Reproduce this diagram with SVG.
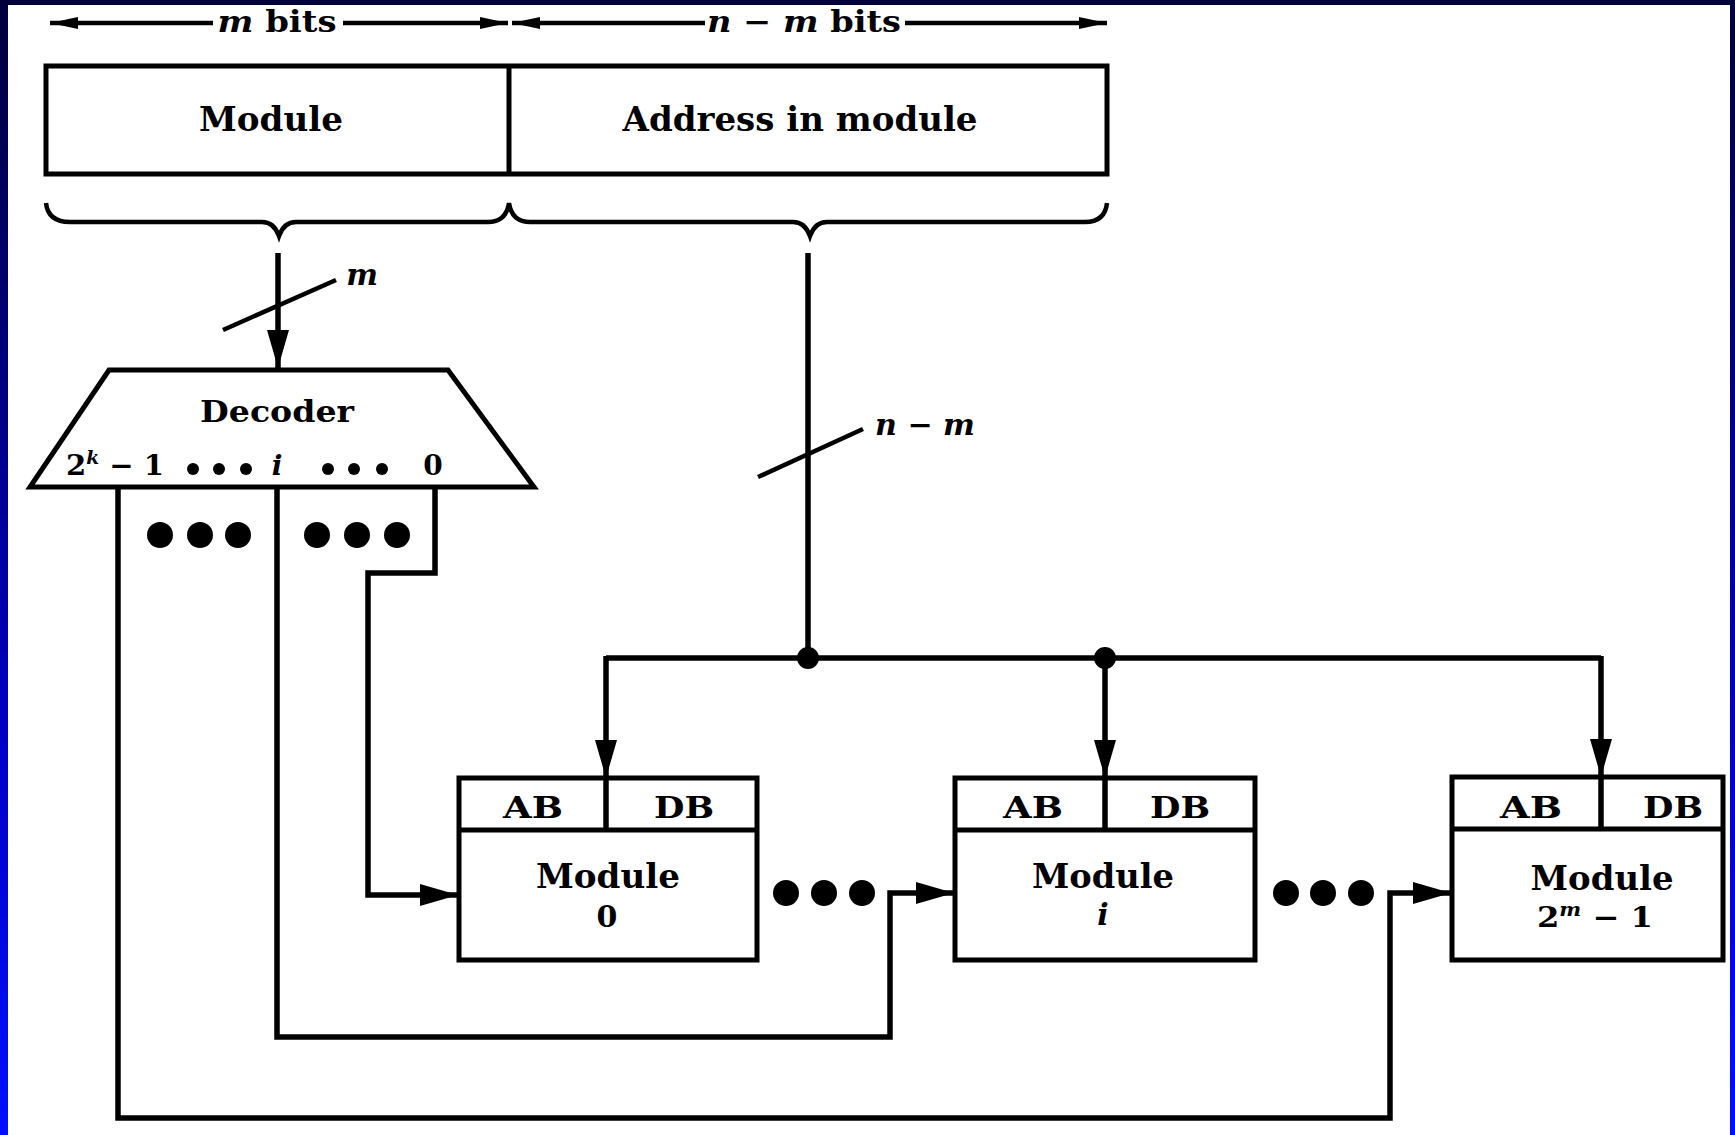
<svg xmlns="http://www.w3.org/2000/svg" width="1735" height="1135" viewBox="0 0 1735 1135">
<defs>
<linearGradient id="frame" x1="0" y1="0" x2="0" y2="1">
<stop offset="0" stop-color="#00003a"/>
<stop offset="0.3" stop-color="#000078"/>
<stop offset="0.65" stop-color="#0000c4"/>
<stop offset="1" stop-color="#0010ff"/>
</linearGradient>
<marker id="ah" markerUnits="userSpaceOnUse" markerWidth="40" markerHeight="24" refX="38" refY="12" orient="auto">
<path d="M0,1 L38,12 L0,23 Z" fill="#000"/>
</marker>
<marker id="dim" markerUnits="userSpaceOnUse" markerWidth="30" markerHeight="16" refX="28" refY="8" orient="auto">
<path d="M0,2 L28,8 L0,14 Z" fill="#000"/>
</marker>
<style>
.t{font-family:"DejaVu Serif","Liberation Serif",serif;font-weight:bold;fill:#000;text-anchor:middle}
.it{font-style:italic}
.box{fill:none;stroke:#000;stroke-width:5}
.wire{fill:none;stroke:#000;stroke-width:5.5;stroke-linejoin:miter}
.thin{fill:none;stroke:#000;stroke-width:4.5}
.dot{fill:#000}
</style>
</defs>
<rect x="0" y="0" width="1735" height="1135" fill="url(#frame)"/>
<rect x="8" y="5" width="1722" height="1130" fill="#fff"/>

<g id="dimensions">
<line class="thin" x1="213" y1="23" x2="50" y2="23" marker-end="url(#dim)"/>
<line class="thin" x1="343" y1="23" x2="508" y2="23" marker-end="url(#dim)"/>
<text class="t" x="277" y="32" font-size="30" textLength="119" lengthAdjust="spacingAndGlyphs"><tspan class="it">m</tspan> bits</text>
<line class="thin" x1="705" y1="23" x2="512" y2="23" marker-end="url(#dim)"/>
<line class="thin" x1="905" y1="23" x2="1107" y2="23" marker-end="url(#dim)"/>
<text class="t" x="804" y="32" font-size="30" textLength="194" lengthAdjust="spacingAndGlyphs"><tspan class="it">n</tspan> − <tspan class="it">m</tspan> bits</text>
</g>

<g id="address-field">
<rect class="box" x="46" y="66" width="1061" height="108"/>
<line class="box" x1="509" y1="66" x2="509" y2="174"/>
<text class="t" x="271" y="131" font-size="33" textLength="144" lengthAdjust="spacingAndGlyphs">Module</text>
<text class="t" x="800" y="131" font-size="33" textLength="355" lengthAdjust="spacingAndGlyphs">Address in module</text>
<path class="thin" d="M46,203 Q48,222 70,222 L262,222 Q274,222 279,236 Q284,222 296,222 L488,222 Q506,222 509,203 Q512,222 530,222 L793,222 Q805,222 810,236 Q815,222 827,222 L1085,222 Q1105,222 1107,203"/>
</g>

<g id="decoder">
<path class="box" d="M109,370 L448,370 L534,487 L30,487 Z"/>
<text class="t" x="277" y="422" font-size="30" textLength="154" lengthAdjust="spacingAndGlyphs">Decoder</text>
<text class="t" x="115" y="475" font-size="28" textLength="98" lengthAdjust="spacingAndGlyphs">2<tspan class="it" font-size="18" dy="-11">k</tspan><tspan dy="11"> − 1</tspan></text>
<circle class="dot" cx="193" cy="469" r="6"/>
<circle class="dot" cx="219" cy="469" r="6"/>
<circle class="dot" cx="246" cy="469" r="6"/>
<text class="t it" x="277" y="475" font-size="28">i</text>
<circle class="dot" cx="328" cy="469" r="6"/>
<circle class="dot" cx="354" cy="469" r="6"/>
<circle class="dot" cx="382" cy="469" r="6"/>
<text class="t" x="433" y="475" font-size="28">0</text>
</g>

<g id="module-0">
<rect class="box" x="459" y="778" width="298" height="182"/>
<line class="box" x1="459" y1="830" x2="757" y2="830"/>
<line class="wire" x1="606" y1="778" x2="606" y2="830"/>
<text class="t" x="533" y="818" font-size="30" textLength="60" lengthAdjust="spacingAndGlyphs">AB</text>
<text class="t" x="684" y="818" font-size="30" textLength="60" lengthAdjust="spacingAndGlyphs">DB</text>
<text class="t" x="608" y="888" font-size="33" textLength="144" lengthAdjust="spacingAndGlyphs">Module</text>
<text class="t" x="607" y="927" font-size="30">0</text>
</g>

<g id="module-i">
<rect class="box" x="955" y="778" width="300" height="182"/>
<line class="box" x1="955" y1="830" x2="1255" y2="830"/>
<line class="wire" x1="1105" y1="778" x2="1105" y2="830"/>
<text class="t" x="1033" y="818" font-size="30" textLength="60" lengthAdjust="spacingAndGlyphs">AB</text>
<text class="t" x="1180" y="818" font-size="30" textLength="60" lengthAdjust="spacingAndGlyphs">DB</text>
<text class="t" x="1103" y="888" font-size="33" textLength="142" lengthAdjust="spacingAndGlyphs">Module</text>
<text class="t it" x="1103" y="925" font-size="30">i</text>
</g>

<g id="module-last">
<rect class="box" x="1452" y="777" width="271" height="183"/>
<line class="box" x1="1452" y1="829" x2="1723" y2="829"/>
<line class="wire" x1="1601" y1="777" x2="1601" y2="829"/>
<text class="t" x="1531" y="818" font-size="30" textLength="62" lengthAdjust="spacingAndGlyphs">AB</text>
<text class="t" x="1673" y="818" font-size="30" textLength="60" lengthAdjust="spacingAndGlyphs">DB</text>
<text class="t" x="1602" y="890" font-size="33" textLength="143" lengthAdjust="spacingAndGlyphs">Module</text>
<text class="t" x="1595" y="927" font-size="28" textLength="116" lengthAdjust="spacingAndGlyphs">2<tspan class="it" font-size="18" dy="-11">m</tspan><tspan dy="11"> − 1</tspan></text>
</g>

<g id="connectors">
<line class="wire" x1="278" y1="253" x2="278" y2="368" marker-end="url(#ah)"/>
<line class="thin" x1="223" y1="330" x2="336" y2="280"/>
<text class="t it" x="362" y="285" font-size="30">m</text>

<line class="wire" x1="808" y1="253" x2="808" y2="658"/>
<line class="thin" x1="758" y1="477" x2="863" y2="429"/>
<text class="t it" x="925" y="435" font-size="30" textLength="100" lengthAdjust="spacingAndGlyphs">n − m</text>

<polyline class="wire" points="606,658 1601,658"/>
<line class="wire" x1="606" y1="656" x2="606" y2="778" marker-end="url(#ah)"/>
<line class="wire" x1="1105" y1="658" x2="1105" y2="778" marker-end="url(#ah)"/>
<line class="wire" x1="1601" y1="656" x2="1601" y2="777" marker-end="url(#ah)"/>
<circle class="dot" cx="808" cy="658" r="11"/>
<circle class="dot" cx="1105" cy="658" r="11"/>

<polyline class="wire" points="435,487 435,573 368,573 368,895 458,895" marker-end="url(#ah)"/>
<polyline class="wire" points="277,487 277,1037 890,1037 890,893 954,893" marker-end="url(#ah)"/>
<polyline class="wire" points="118,487 118,1118 1390,1118 1390,893 1451,893" marker-end="url(#ah)"/>

<circle class="dot" cx="160" cy="535" r="13"/>
<circle class="dot" cx="200" cy="535" r="13"/>
<circle class="dot" cx="238" cy="535" r="13"/>
<circle class="dot" cx="317" cy="535" r="13"/>
<circle class="dot" cx="357" cy="535" r="13"/>
<circle class="dot" cx="397" cy="535" r="13"/>

<circle class="dot" cx="786" cy="893" r="13"/>
<circle class="dot" cx="824" cy="893" r="13"/>
<circle class="dot" cx="862" cy="893" r="13"/>
<circle class="dot" cx="1286" cy="893" r="13"/>
<circle class="dot" cx="1323" cy="893" r="13"/>
<circle class="dot" cx="1361" cy="893" r="13"/>
</g>
</svg>
